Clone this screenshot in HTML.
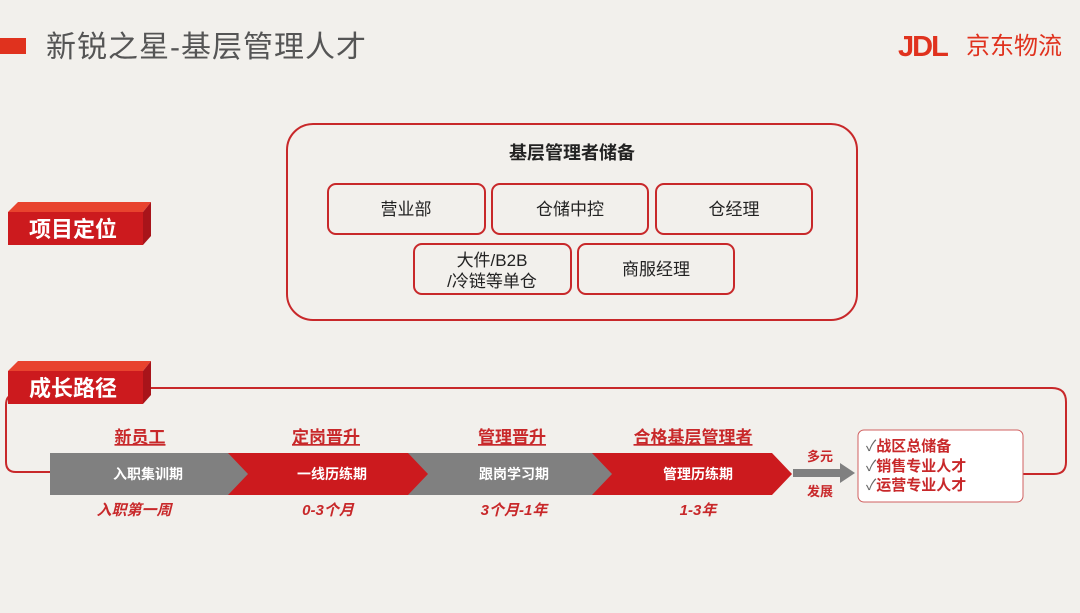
<!DOCTYPE html>
<html><head><meta charset="utf-8"><style>
body{margin:0;width:1080px;height:613px;background:#f2f0ec;overflow:hidden;font-family:"Liberation Sans","Noto Sans CJK SC",sans-serif}
svg{display:block}
</style></head><body>
<svg width="1080" height="613" viewBox="0 0 1080 613" xmlns="http://www.w3.org/2000/svg" font-family="Liberation Sans, Noto Sans CJK SC, sans-serif">
<rect x="0" y="38" width="26" height="16" fill="#e0321e"/>
<text x="46" y="57" font-size="30" letter-spacing="1" fill="#555">新锐之星-基层管理人才</text>
<text x="898" y="56" font-size="29" font-weight="900" fill="#e0321e" letter-spacing="-2">JDL</text>
<text x="966" y="54" font-size="24" fill="#e0321e">京东物流</text>

<rect x="287" y="124" width="570" height="196" rx="26" fill="none" stroke="#c8282a" stroke-width="2"/>
<text x="572" y="159" font-size="18" font-weight="bold" text-anchor="middle" fill="#222">基层管理者储备</text>
<g fill="none" stroke="#c8282a" stroke-width="2">
<rect x="328" y="184" width="157" height="50" rx="8"/>
<rect x="492" y="184" width="156" height="50" rx="8"/>
<rect x="656" y="184" width="156" height="50" rx="8"/>
<rect x="414" y="244" width="157" height="50" rx="8"/>
<rect x="578" y="244" width="156" height="50" rx="8"/>
</g>
<g font-size="17" fill="#222" text-anchor="middle">
<text x="406" y="215">营业部</text>
<text x="570" y="215">仓储中控</text>
<text x="734" y="215">仓经理</text>
<text x="492" y="266">大件/B2B</text>
<text x="492" y="287">/冷链等单仓</text>
<text x="656" y="275">商服经理</text>
</g>

<polygon points="8,212 18,202 151,202 143,212" fill="#e8432e"/>
<polygon points="143,212 151,202 151,236 143,245" fill="#a8141a"/>
<rect x="8" y="212" width="135" height="33" fill="#cc1a1e"/>
<text x="73" y="237" font-size="22" font-weight="bold" fill="#fff" text-anchor="middle">项目定位</text>

<path d="M150,388 H1052 Q1066,388 1066,402 V462 Q1066,474 1054,474 H1023" fill="none" stroke="#c8282a" stroke-width="2"/>
<path d="M14,395 Q6,395 6,405 V462 Q6,472 16,472 H50" fill="none" stroke="#c8282a" stroke-width="2"/>
<polygon points="8,371 18,361 151,361 143,371" fill="#e8432e"/>
<polygon points="143,371 151,361 151,395 143,404" fill="#a8141a"/>
<rect x="8" y="371" width="135" height="33" fill="#cc1a1e"/>
<text x="73" y="396" font-size="22" font-weight="bold" fill="#fff" text-anchor="middle">成长路径</text>

<polygon points="50,453 232,453 252,474 232,495 50,495" fill="#808080"/>
<polygon points="228,453 412,453 432,474 412,495 228,495 248,474" fill="#cc1a1e"/>
<polygon points="408,453 596,453 616,474 596,495 408,495 428,474" fill="#808080"/>
<polygon points="592,453 772,453 792,474 772,495 592,495 612,474" fill="#cc1a1e"/>
<g font-size="14" font-weight="bold" fill="#fff" text-anchor="middle">
<text x="148" y="479">入职集训期</text>
<text x="332" y="479">一线历练期</text>
<text x="514" y="479">跟岗学习期</text>
<text x="698" y="479">管理历练期</text>
</g>
<g font-size="17" font-weight="bold" fill="#c8282a" text-anchor="middle" text-decoration="underline">
<text x="140" y="443">新员工</text>
<text x="326" y="443">定岗晋升</text>
<text x="512" y="443">管理晋升</text>
<text x="693" y="443">合格基层管理者</text>
</g>
<g font-size="15" font-weight="bold" font-style="italic" fill="#c8282a" text-anchor="middle">
<text x="134" y="515">入职第一周</text>
<text x="328" y="515">0-3个月</text>
<text x="514" y="515">3个月-1年</text>
<text x="698" y="515">1-3年</text>
</g>
<rect x="793" y="469" width="50" height="8" fill="#808080"/>
<polygon points="840,463 855,473 840,483" fill="#808080"/>
<text x="820" y="461" font-size="13" font-weight="bold" fill="#c8282a" text-anchor="middle">多元</text>
<text x="820" y="496" font-size="13" font-weight="bold" fill="#c8282a" text-anchor="middle">发展</text>
<rect x="858" y="430" width="165" height="72" rx="6" fill="#fff" stroke="#d06060" stroke-width="1"/>
<g font-size="15" font-weight="bold" fill="#c8282a">
<text x="866" y="451"><tspan fill="#666" font-weight="normal">✓</tspan>战区总储备</text>
<text x="866" y="471"><tspan fill="#666" font-weight="normal">✓</tspan>销售专业人才</text>
<text x="866" y="490"><tspan fill="#666" font-weight="normal">✓</tspan>运营专业人才</text>
</g>
</svg>
</body></html>
